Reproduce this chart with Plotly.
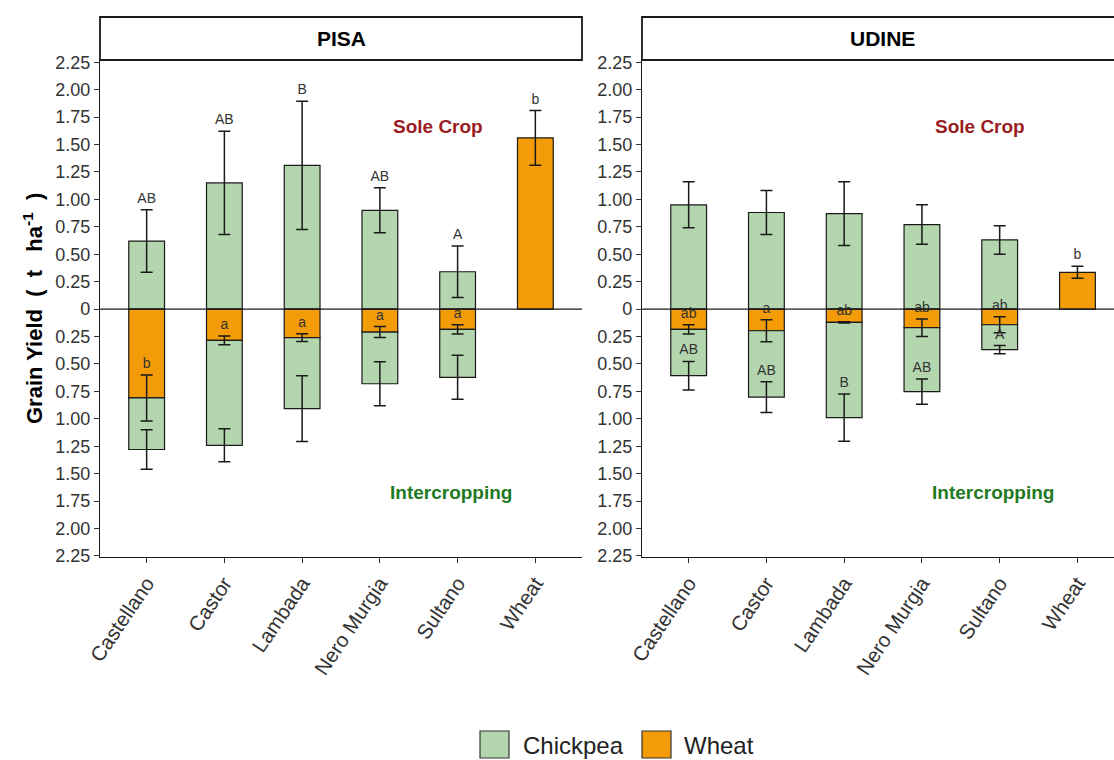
import plotly.graph_objects as go

# ---- data -------------------------------------------------------------
cultivars = ["Castellano", "Castor", "Lambada", "Nero Murgia", "Sultano"]
categories = cultivars + ["Wheat"]
y_ticks = [-2.25, -2.0, -1.75, -1.5, -1.25, -1.0, -0.75, -0.5, -0.25, 0,
           0.25, 0.5, 0.75, 1.0, 1.25, 1.5, 1.75, 2.0, 2.25]

# PISA
pisa_sole_chick = [0.62, 1.15, 1.31, 0.90, 0.34]
pisa_sole_chick_err = [0.285, 0.47, 0.585, 0.205, 0.235]
pisa_sole_chick_lab = ["AB", "AB", "B", "AB", "A"]
pisa_sole_wheat = 1.56
pisa_sole_wheat_err = 0.25
pisa_sole_wheat_lab = "b"
pisa_ic_wheat = [0.81, 0.285, 0.26, 0.21, 0.185]
pisa_ic_wheat_err = [0.21, 0.04, 0.035, 0.05, 0.043]
pisa_ic_wheat_lab = ["b", "a", "a", "a", "a"]
pisa_ic_chick = [0.47, 0.957, 0.647, 0.471, 0.437]
pisa_ic_chick_err = [0.18, 0.15, 0.30, 0.20, 0.20]
pisa_ic_chick_lab = ["", "", "", "", ""]

# UDINE
udine_sole_chick = [0.95, 0.88, 0.87, 0.77, 0.63]
udine_sole_chick_err = [0.21, 0.20, 0.29, 0.18, 0.13]
udine_sole_chick_lab = ["", "", "", "", ""]
udine_sole_wheat = 0.335
udine_sole_wheat_err = 0.055
udine_sole_wheat_lab = "b"
udine_ic_wheat = [0.185, 0.198, 0.121, 0.17, 0.143]
udine_ic_wheat_err = [0.043, 0.10, 0.006, 0.08, 0.073]
udine_ic_wheat_lab = ["ab", "a", "ab", "ab", "ab"]
udine_ic_chick = [0.422, 0.604, 0.869, 0.583, 0.227]
udine_ic_chick_err = [0.13, 0.14, 0.216, 0.115, 0.038]
udine_ic_chick_lab = ["AB", "AB", "B", "AB", "A"]

# ---- style ------------------------------------------------------------
GREEN = "#b4d6ae"
ORANGE = "#f39c07"
EDGE = "#1a1a1a"
TXT = "#333333"
FONT = "Liberation Sans, Arial, sans-serif"
BAR_W = 0.46
LAB_OFF = 0.095
NB = "\u00a0"

fig = go.Figure()


def add_panel(xa, ya, sole_c, sole_ce, sole_cl, sole_w, sole_we, sole_wl,
              ic_w, ic_we, ic_wl, ic_c, ic_ce, ic_cl):
    bar_line = dict(color=EDGE, width=1.2)
    # sole crop bars (upwards)
    fig.add_trace(go.Bar(x=cultivars, y=sole_c, base=0, width=BAR_W,
                         marker=dict(color=GREEN, line=bar_line),
                         xaxis=xa, yaxis=ya, showlegend=False))
    fig.add_trace(go.Bar(x=["Wheat"], y=[sole_w], base=0, width=BAR_W,
                         marker=dict(color=ORANGE, line=bar_line),
                         xaxis=xa, yaxis=ya, showlegend=False))
    # intercropping bars (downwards, chickpea stacked under wheat)
    neg_w = [-v for v in ic_w]
    neg_total = [-(w + c) for w, c in zip(ic_w, ic_c)]
    fig.add_trace(go.Bar(x=cultivars, y=neg_w, base=0, width=BAR_W,
                         marker=dict(color=ORANGE, line=bar_line),
                         xaxis=xa, yaxis=ya, showlegend=False))
    fig.add_trace(go.Bar(x=cultivars, y=[-c for c in ic_c], base=neg_w,
                         width=BAR_W,
                         marker=dict(color=GREEN, line=bar_line),
                         xaxis=xa, yaxis=ya, showlegend=False))

    # error bars
    def err(xs, ys, es):
        fig.add_trace(go.Scatter(
            x=xs, y=ys, mode="markers",
            marker=dict(size=1, color="rgba(0,0,0,0)"),
            error_y=dict(type="data", array=es, symmetric=True,
                         width=6, thickness=1.5, color=EDGE),
            xaxis=xa, yaxis=ya, showlegend=False, hoverinfo="skip"))

    err(cultivars, sole_c, sole_ce)
    err(["Wheat"], [sole_w], [sole_we])
    err(cultivars, neg_w, ic_we)
    err(cultivars, neg_total, ic_ce)

    # significance letters (only where a letter exists)
    def letters(xs, ys, labs):
        keep = [(x, y, t) for x, y, t in zip(xs, ys, labs) if t]
        if not keep:
            return
        fig.add_trace(go.Scatter(
            x=[k[0] for k in keep], y=[k[1] for k in keep], mode="text",
            text=[k[2] for k in keep], textposition="middle center",
            textfont=dict(family=FONT, size=14, color=TXT),
            xaxis=xa, yaxis=ya, showlegend=False, hoverinfo="skip"))

    letters(cultivars, [v + e + LAB_OFF for v, e in zip(sole_c, sole_ce)], sole_cl)
    letters(["Wheat"], [sole_w + sole_we + LAB_OFF], [sole_wl])
    letters(cultivars, [-(w - e) + LAB_OFF for w, e in zip(ic_w, ic_we)], ic_wl)
    letters(cultivars, [-(w + c - e) + LAB_OFF
                        for w, c, e in zip(ic_w, ic_c, ic_ce)], ic_cl)


add_panel("x", "y", pisa_sole_chick, pisa_sole_chick_err, pisa_sole_chick_lab,
          pisa_sole_wheat, pisa_sole_wheat_err, pisa_sole_wheat_lab,
          pisa_ic_wheat, pisa_ic_wheat_err, pisa_ic_wheat_lab,
          pisa_ic_chick, pisa_ic_chick_err, pisa_ic_chick_lab)
add_panel("x2", "y2", udine_sole_chick, udine_sole_chick_err, udine_sole_chick_lab,
          udine_sole_wheat, udine_sole_wheat_err, udine_sole_wheat_lab,
          udine_ic_wheat, udine_ic_wheat_err, udine_ic_wheat_lab,
          udine_ic_chick, udine_ic_chick_err, udine_ic_chick_lab)

W, H = 1114, 760
left_dom = [100 / W, 582 / W]
right_dom = [642 / W, 1.0]
y_dom = [(H - 557) / H, (H - 60) / H]
strip_top = (H - 17) / H

tick_text = ["0" if v == 0 else f"{abs(v):.2f}" for v in y_ticks]

xaxis_common = dict(
    type="category", categoryorder="array", categoryarray=categories,
    showline=True, linecolor=EDGE, linewidth=1.3, ticks="outside",
    ticklen=5, tickcolor=TXT, tickangle=-56, showgrid=False, zeroline=False,
    automargin=False,
    tickfont=dict(family=FONT, size=20.5, color=TXT))
yaxis_common = dict(
    range=[-2.26, 2.27], tickmode="array", tickvals=y_ticks, ticktext=tick_text,
    showline=True, linecolor=EDGE, linewidth=1.3, ticks="outside", ticklen=5,
    tickcolor=TXT, showgrid=False, zeroline=False, automargin=False,
    tickfont=dict(family=FONT, size=18, color=TXT))

fig.update_layout(
    width=W, height=H, margin=dict(l=0, r=0, t=0, b=0, autoexpand=False),
    paper_bgcolor="white", plot_bgcolor="white", barmode="overlay",
    showlegend=False,
    xaxis=dict(domain=left_dom, range=[-0.6, 5.6], anchor="y", **xaxis_common),
    yaxis=dict(domain=y_dom, anchor="x", **yaxis_common),
    xaxis2=dict(domain=right_dom, range=[-0.6, 5.47], anchor="y2", **xaxis_common),
    yaxis2=dict(domain=y_dom, anchor="x2", **yaxis_common),
)

shapes = []
annotations = []
# zero reference lines
for xr, yr in (("x", "y"), ("x2", "y2")):
    shapes.append(dict(type="line", xref=f"{xr} domain", yref=yr,
                       x0=0, x1=1, y0=0, y1=0,
                       line=dict(color=EDGE, width=1.2), layer="above"))
# facet strips
strips = [((left_dom[0], left_dom[1]), (left_dom[0] + left_dom[1]) / 2, "PISA"),
          ((right_dom[0], 1.01), (right_dom[0] + 1.0) / 2 + 0.004, "UDINE")]
for (x0, x1), xc, name in strips:
    shapes.append(dict(type="rect", xref="paper", yref="paper",
                       x0=x0, x1=x1, y0=y_dom[1], y1=strip_top,
                       line=dict(color=EDGE, width=1.8), fillcolor="white"))
    annotations.append(dict(xref="paper", yref="paper", x=xc,
                            y=(y_dom[1] + strip_top) / 2,
                            xanchor="center", yanchor="middle",
                            text=f"<b>{name}</b>", showarrow=False,
                            font=dict(family=FONT, size=21, color="black")))

# panel captions
for xr, yr in (("x", "y"), ("x2", "y2")):
    annotations.append(dict(xref=xr, yref=yr, x=3.75, y=1.66,
                            xanchor="center", yanchor="middle",
                            text="<b>Sole Crop</b>", showarrow=False,
                            font=dict(family=FONT, size=19, color="#9b1c1f")))
    annotations.append(dict(xref=xr, yref=yr, x=3.92, y=-1.67,
                            xanchor="center", yanchor="middle",
                            text="<b>Intercropping</b>", showarrow=False,
                            font=dict(family=FONT, size=19, color="#1f7a22")))

# y-axis title with widened spacing around the unit
y_title = (f"<b>Grain Yield{NB}{NB}({NB}{NB}t{NB}{NB}{NB}ha"
           f"<sup>-1</sup>{NB}{NB})</b>")
annotations.append(dict(xref="paper", yref="paper", x=33 / W, y=(H - 309) / H,
                        xanchor="center", yanchor="middle",
                        text=y_title, textangle=-90, showarrow=False,
                        font=dict(family=FONT, size=22, color="black")))

# legend
legend_items = [("Chickpea", GREEN, 480, 521), ("Wheat", ORANGE, 642, 682)]
for label, col, sx, tx in legend_items:
    shapes.append(dict(type="rect", xref="paper", yref="paper",
                       x0=sx / W, x1=(sx + 29) / W,
                       y0=(H - 758) / H, y1=(H - 731) / H,
                       fillcolor=col, line=dict(color="#333333", width=1.2)))
    annotations.append(dict(xref="paper", yref="paper", x=tx / W,
                            y=(H - 745) / H, xanchor="left", yanchor="middle",
                            text=label, showarrow=False,
                            font=dict(family=FONT, size=24, color="#222222")))

fig.update_layout(shapes=shapes, annotations=annotations)
fig.write_html("out.html")
